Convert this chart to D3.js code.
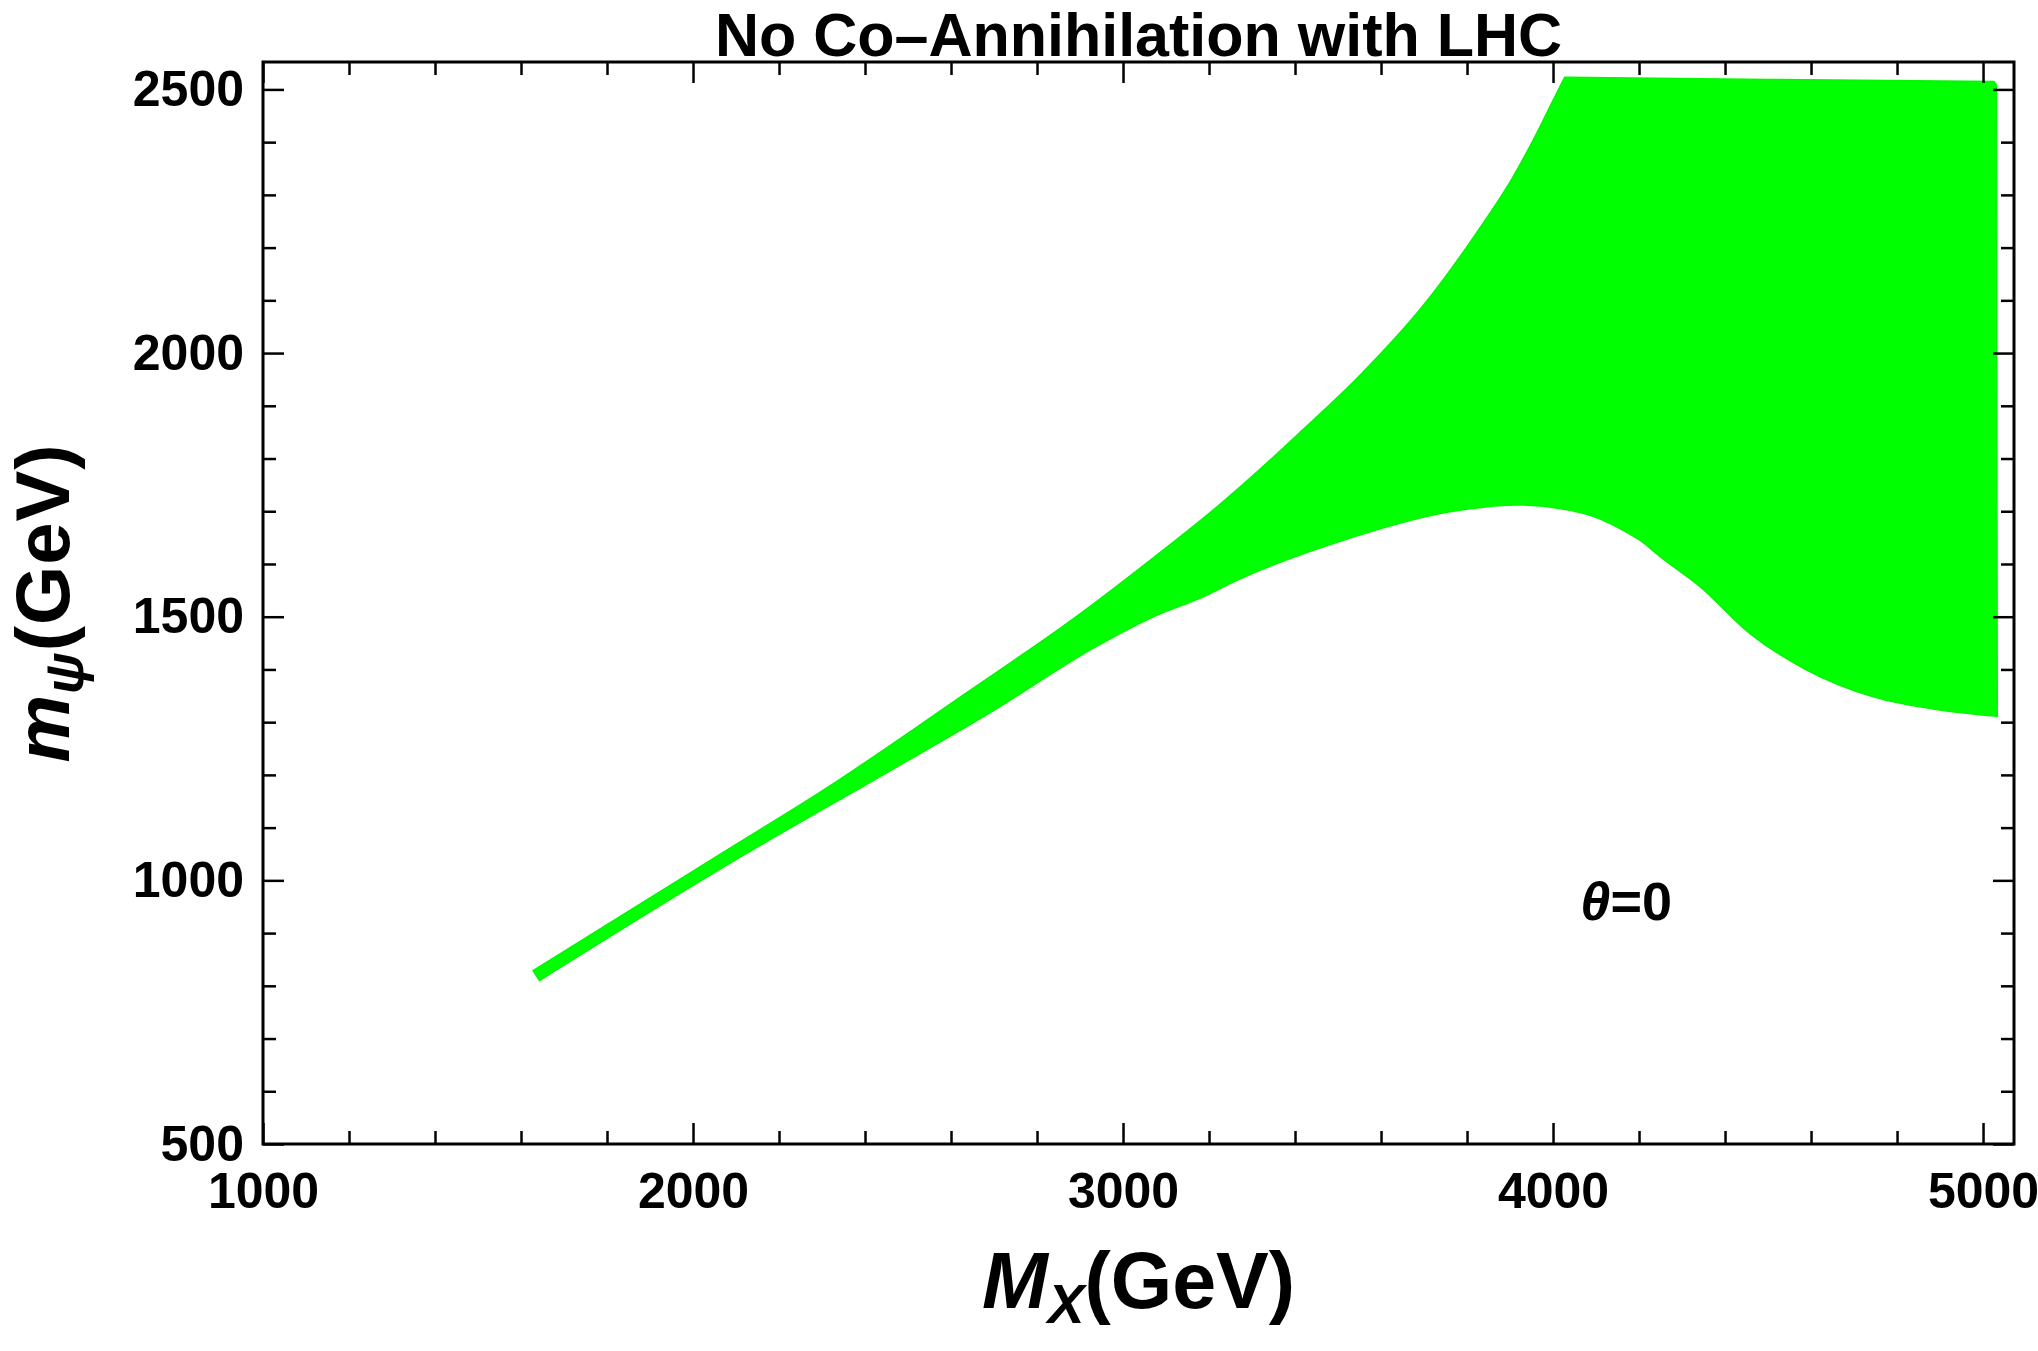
<!DOCTYPE html>
<html>
<head>
<meta charset="utf-8">
<script src="https://cdn.jsdelivr.net/npm/d3@7"></script>
<style>
  body { margin: 0; background: #fff; }
  svg { display: block; }
  text { font-family: "Liberation Sans", Arial, sans-serif; font-weight: bold; fill: #000; }
</style>
</head>
<body>
<div id="chart"></div>
<script>
// upper-left edge of the allowed region (M_X, m_psi), up to the top-left corner
const upperX = [1628, 2072, 2303, 2640, 2881, 3063, 3218, 3319, 3412, 3550, 3700, 3828, 3904, 3959, 4003, 4027];
const upperY = [829, 1054, 1171, 1358, 1494, 1607, 1708, 1780, 1850, 1957, 2092, 2235, 2330, 2412, 2484, 2523];
// flat top edge and the right edge
const edgeX = [4027, 4500, 5026, 5031];
const edgeY = [2523, 2519, 2515, 2508];
// lower edge of the region
const lowerX = [1643, 2091, 2448, 2689, 2930, 3063, 3195, 3249, 3512, 3760, 3916, 4070, 4163, 4202, 4249, 4342, 4458, 4590, 4745, 4900, 5033];
const lowerY = [810, 1035, 1203, 1317, 1440, 1497, 1541, 1563, 1645, 1699, 1712, 1696, 1664, 1645, 1614, 1557, 1468, 1399, 1348, 1323, 1311];

const xMajor = [1000, 2000, 3000, 4000, 5000];
const yMajor = [500, 1000, 1500, 2000, 2500];
const xMinor = d3.range(1000, 5001, 200).filter(v => v % 1000 !== 0);
const yMinor = d3.range(500, 2501, 100).filter(v => v % 500 !== 0);

const title = "No Co\u2013Annihilation with LHC";
const note = { x: 4170, y: 925 };

const width = 2038, height = 1351;
const pl = 263, pr = 2014, pt = 62, pb = 1144;

const x = d3.scaleLinear().domain([1000, 5072]).range([pl, pr]);
const y = d3.scaleLinear().domain([500, 2552]).range([pb, pt]);

const svg = d3.select("#chart").append("svg")
    .attr("width", width)
    .attr("height", height);

// green region
const pts = (xs, ys) => xs.map((v, i) => [x(v), y(ys[i])]);
const smooth = d3.line().curve(d3.curveMonotoneX);
const straight = d3.line();
let p1 = smooth(pts(upperX, upperY));
let p2 = straight(pts(edgeX, edgeY)).replace(/^M/, "L");
let p3 = smooth(pts(lowerX, lowerY).reverse()).replace(/^M/, "L");
svg.append("path")
    .attr("d", p1 + p2 + p3 + "Z")
    .attr("fill", "#00ff00")
    .attr("stroke", "#00f800")
    .attr("stroke-width", 1.5)
    .attr("stroke-linejoin", "round");

// axes, ticks pointing inward
function styleAxis(g) {
    g.select(".domain").remove();
    g.selectAll("line").attr("stroke", "#000").attr("stroke-width", 2.5);
    g.selectAll("text").style("font-size", "50px").attr("fill", "#000");
}

svg.append("g").attr("transform", `translate(0,${pb})`)
    .call(d3.axisBottom(x).tickValues(xMajor).tickSizeInner(-21).tickSizeOuter(0).tickPadding(28).tickFormat(d3.format("d")))
    .call(styleAxis);
svg.append("g").attr("transform", `translate(0,${pb})`)
    .call(d3.axisBottom(x).tickValues(xMinor).tickSize(-13).tickFormat(""))
    .call(styleAxis);
svg.append("g").attr("transform", `translate(0,${pt})`)
    .call(d3.axisTop(x).tickValues(xMajor).tickSize(-21).tickFormat(""))
    .call(styleAxis);
svg.append("g").attr("transform", `translate(0,${pt})`)
    .call(d3.axisTop(x).tickValues(xMinor).tickSize(-13).tickFormat(""))
    .call(styleAxis);

svg.append("g").attr("transform", `translate(${pl},0)`)
    .call(d3.axisLeft(y).tickValues(yMajor).tickSizeInner(-21).tickSizeOuter(0).tickPadding(19).tickFormat(d3.format("d")))
    .call(styleAxis);
svg.append("g").attr("transform", `translate(${pl},0)`)
    .call(d3.axisLeft(y).tickValues(yMinor).tickSize(-13).tickFormat(""))
    .call(styleAxis);
svg.append("g").attr("transform", `translate(${pr},0)`)
    .call(d3.axisRight(y).tickValues(yMajor).tickSize(-21).tickFormat(""))
    .call(styleAxis);
svg.append("g").attr("transform", `translate(${pr},0)`)
    .call(d3.axisRight(y).tickValues(yMinor).tickSize(-13).tickFormat(""))
    .call(styleAxis);

// frame
svg.append("rect")
    .attr("x", pl).attr("y", pt)
    .attr("width", pr - pl).attr("height", pb - pt)
    .attr("fill", "none")
    .attr("stroke", "#000")
    .attr("stroke-width", 3);

// title
svg.append("text")
    .attr("x", (pl + pr) / 2)
    .attr("y", 56)
    .attr("text-anchor", "middle")
    .style("font-size", "61px")
    .text(title);

// x label
const xl = svg.append("text")
    .attr("x", (pl + pr) / 2)
    .attr("y", 1308)
    .attr("text-anchor", "middle")
    .style("font-size", "79px");
xl.append("tspan").style("font-style", "italic").text("M");
xl.append("tspan").style("font-style", "italic").style("font-size", "55px").attr("dy", 15).text("X");
xl.append("tspan").attr("dy", -15).text("(GeV)");

// y label
const yl = svg.append("text")
    .attr("transform", `translate(69,${(pt + pb) / 2}) rotate(-90)`)
    .attr("text-anchor", "middle")
    .style("font-size", "76px")
    .style("letter-spacing", "1px");
yl.append("tspan").style("font-style", "italic").text("m");
yl.append("tspan").style("font-style", "italic").style("font-size", "54px").attr("dy", 14).text("\u03c8");
yl.append("tspan").attr("dy", -14).text("(GeV)");

// annotation
const th = svg.append("text")
    .attr("x", x(note.x))
    .attr("y", y(note.y))
    .attr("text-anchor", "middle")
    .style("font-size", "54px");
th.append("tspan").style("font-style", "italic").text("\u03b8");
th.append("tspan").text("=0");
</script>
</body>
</html>
